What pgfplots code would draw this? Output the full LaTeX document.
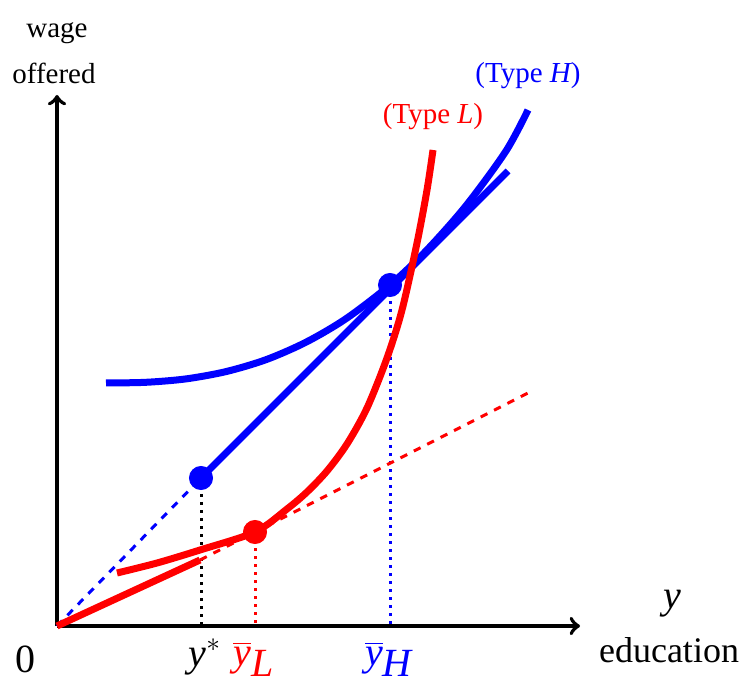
\documentclass[border=0pt]{standalone}
\usepackage{fontspec}
\setmainfont{Liberation Serif}
\usepackage{pgfplots}
\pgfplotsset{compat=1.18}
\definecolor{myblue}{RGB}{0,0,255}
\definecolor{myred}{RGB}{255,0,0}
\newcommand{\itl}[1]{\mbox{\itshape #1}}
\begin{document}
\begin{tikzpicture}
\begin{axis}[
  x=0.4pt, y=0.4pt,
  xmin=-57, xmax=688, ymin=-56, ymax=626,
  hide axis, clip=false,
  scale only axis,
]
% frame of the picture
\addplot[draw=none] coordinates {(-57,-56) (688,626)};
% axes
\addplot[black, line width=1.6pt, -to] coordinates {(0,0) (523,0)};
\addplot[black, line width=1.6pt, -to] coordinates {(0,0) (0,531)};
% dotted drops
\addplot[black, line width=1.2pt, dotted] coordinates {(144,148) (144,0)};
\addplot[myred, line width=1.2pt, dotted] coordinates {(198,94) (198,0)};
\addplot[myblue, line width=1.2pt, dotted] coordinates {(333,341) (333,0)};
% type H wage line
\addplot[myblue, line width=1.2pt, dashed] coordinates {(0,0) (144,148)};
\addplot[myblue, line width=2.8pt] coordinates {(144,148) (451,455)};
% type L wage line
\addplot[myred, line width=2.8pt] coordinates {(0,0) (143,66)};
\addplot[myred, line width=1.2pt, dashed] coordinates {(143,66) (471,233)};
% type H indifference curve
\addplot[myblue, line width=2.8pt, smooth] coordinates {
  (49,243) (89,243.7) (129,247.1) (169,254.4) (209,266.3) (249,283.8)
  (289,307.3) (333,341) (369,375.1) (409,420.3) (449,475) (471,516)};
% type L indifference curve
\addplot[myred, line width=2.8pt, smooth] coordinates {
  (60,53) (100,63) (143,76) (198,94) (230,117) (250,134) (270,155)
  (290,182) (310,218) (330,268) (345,316) (360,383) (370,436) (376,476)};
% dots
\addplot[myblue, only marks, mark=*, mark size=4.6pt] coordinates {(144,148) (333,341)};
\addplot[myred, only marks, mark=*, mark size=4.6pt] coordinates {(198,94)};
% labels
\node[font=\fontsize{11.6}{14}\selectfont] at (axis cs:0,593) {wage};
\node[font=\fontsize{11.6}{14}\selectfont] at (axis cs:-3,553) {offered};
\node[font=\fontsize{11.6}{14}\selectfont, text=myblue] at (axis cs:471,550) {(Type \itl{H})};
\node[font=\fontsize{11.6}{14}\selectfont, text=myred] at (axis cs:376,509) {(Type \itl{L})};
\node[font=\fontsize{16}{18}\selectfont] at (axis cs:-32,-33) {0};
\node[font=\fontsize{16}{18}\selectfont] at (axis cs:148,-31) {$\itl{y}^{*}$};
\node[font=\fontsize{16}{18}\selectfont, text=myred] at (axis cs:197,-33) {$\overline{\itl{y}}_{\itl{L}}$};
\node[font=\fontsize{16}{18}\selectfont, text=myblue] at (axis cs:332,-33) {$\overline{\itl{y}}_{\itl{H}}$};
\node[font=\fontsize{16}{18}\selectfont] at (axis cs:615,22) {\itl{y}};
\node[font=\fontsize{14.4}{16}\selectfont, inner sep=1pt] at (axis cs:612,-24) {education};
\end{axis}
\end{tikzpicture}
\end{document}
